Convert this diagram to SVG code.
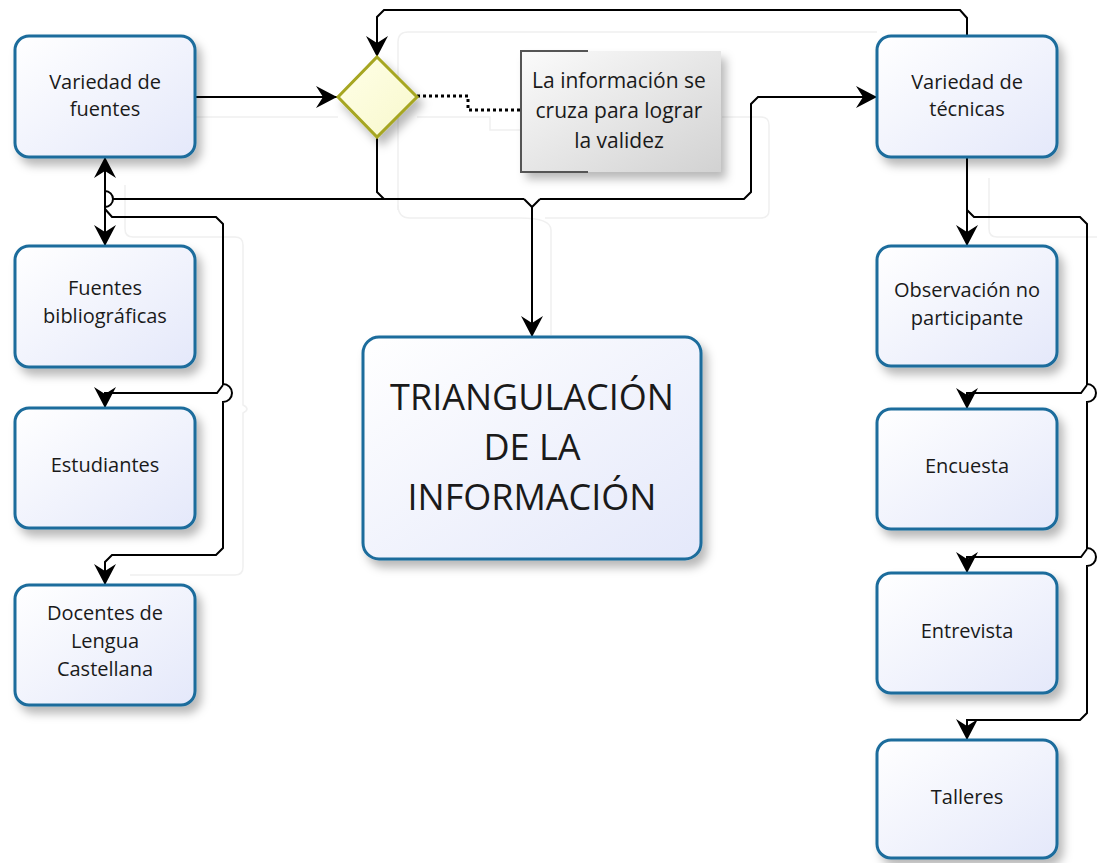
<svg xmlns="http://www.w3.org/2000/svg" width="1097" height="863" viewBox="0 0 1097 863">
<defs>
<linearGradient id="boxg" x1="0" y1="0" x2="1" y2="1">
<stop offset="0" stop-color="#ffffff"/>
<stop offset="1" stop-color="#e4e8fa"/>
</linearGradient>
<linearGradient id="noteg" x1="0" y1="0" x2="1" y2="1">
<stop offset="0" stop-color="#fbfbfb"/>
<stop offset="1" stop-color="#d2d2d2"/>
</linearGradient>
<linearGradient id="diag" x1="0" y1="0" x2="1" y2="1">
<stop offset="0" stop-color="#ffffe8"/>
<stop offset="1" stop-color="#f8f8cc"/>
</linearGradient>
<filter id="sh" x="-20%" y="-20%" width="150%" height="150%">
<feDropShadow dx="5" dy="7" stdDeviation="5" flood-color="#000" flood-opacity="0.28"/>
</filter>
<marker id="ah" viewBox="-22 -12 24 24" refX="0" refY="0" markerWidth="24" markerHeight="24" markerUnits="userSpaceOnUse" orient="auto-start-reverse">
<path d="M0,0 L-21,-11 L-14,0 L-21,11 Z" fill="#000"/>
</marker>
<style>
.box{fill:url(#boxg);stroke:#1b6c9c;stroke-width:3;filter:url(#sh)}
.t{font-family:"Open Sans","Noto Sans",sans-serif;font-size:20px;fill:#1a1a1a;text-anchor:middle}
.n{font-size:21px}
.big{font-size:36px}
.c{fill:none;stroke:#000;stroke-width:2}
.a{marker-end:url(#ah)}
.ghost{fill:none;stroke:#f0f0f0;stroke-width:1.5}
</style>
</defs>
<rect width="1097" height="863" fill="#fff"/>
<g id="ghosts">
<path class="ghost" d="M195,117 H338 M417,117 H490 V130 H520"/>
<path class="ghost" d="M398,210 V42 Q398,32 408,32 H877"/>
<path class="ghost" d="M722,117 H761 Q769,117 769,125 V210 Q769,218 761,218 H545"/>
<path class="ghost" d="M398,205 Q398,218 410,218 H520 Q551,218 551,230 V335"/>
<path class="ghost" d="M989,178 V229 Q989,237 997,237 H1097"/>
<path class="ghost" d="M125,185 V229 Q125,237 133,237 H235 Q243,237 243,245 V405 Q251,409 243,413 V567 Q243,575 235,575 H130"/>
</g>
<g id="connectors">
<path class="c a" d="M195,97 H337"/>
<path class="c a" d="M967,36 V18 L960,10 H384 L377,17 V57"/>
<path class="c a" d="M377,137 V192 L384,199 H524 M540,199 H744 L751,192 V104 L758,97 H877"/>
<path class="c" d="M113,199 H384"/>
<path class="c a" d="M524,199 L532,207 L540,199 M532,207 V337"/>
<path class="c" d="M105,191 A8,8 0 0 1 105,207"/>
<path class="c" d="M105,157 V246" marker-start="url(#ah)" marker-end="url(#ah)"/>
<path class="c a" d="M105,209 L112,217 H216 L223,224 V384 A9,9 0 0 1 223,402 V548 L216,555 H112 L105,562 V585"/>
<path class="c a" d="M223,385 L217,393 H105 V408"/>
<path class="c a" d="M967,157 V246"/>
<path class="c a" d="M967,210 L974,217 H1080 L1087,224 V384 A9,9 0 0 1 1087,402 V548 A9,9 0 0 1 1087,566 V713 L1080,720 H967 V740"/>
<path class="c a" d="M1087,385 L1081,393 H967 V409"/>
<path class="c a" d="M1087,549 L1081,557 H967 V573"/>
<path d="M417,96 H468 V110 H520" fill="none" stroke="#000" stroke-width="3" stroke-dasharray="3 3"/>
</g>
<g id="n-fuentes"><rect class="box" x="15" y="36" width="180" height="121" rx="14"/><text class="t" x="105" y="89">Variedad de</text><text class="t" x="105" y="116">fuentes</text></g>
<g id="n-decision"><polygon points="377,57 417,97 377,137 338,97" fill="url(#diag)" stroke="#a6a620" stroke-width="3" filter="url(#sh)"/></g>
<g id="n-nota"><rect x="521" y="51" width="200" height="121" fill="url(#noteg)" filter="url(#sh)"/><path d="M588,51 H521 V172 H588" fill="none" stroke="#555" stroke-width="2"/><text class="t n" x="619" y="88">La información se</text><text class="t n" x="619" y="118">cruza para lograr</text><text class="t n" x="619" y="148">la validez</text></g>
<g id="n-tecnicas"><rect class="box" x="877" y="36" width="180" height="121" rx="14"/><text class="t" x="967" y="89">Variedad de</text><text class="t" x="967" y="116">técnicas</text></g>
<g id="n-biblio"><rect class="box" x="15" y="246" width="180" height="121" rx="14"/><text class="t" x="105" y="295">Fuentes</text><text class="t" x="105" y="323">bibliográficas</text></g>
<g id="n-estudiantes"><rect class="box" x="15" y="408" width="180" height="120" rx="14"/><text class="t" x="105" y="472">Estudiantes</text></g>
<g id="n-docentes"><rect class="box" x="15" y="585" width="180" height="120" rx="14"/><text class="t" x="105" y="620">Docentes de</text><text class="t" x="105" y="648">Lengua</text><text class="t" x="105" y="676">Castellana</text></g>
<g id="n-central"><rect class="box" x="363" y="337" width="338" height="222" rx="16"/><text class="t big" x="532" y="410">TRIANGULACIÓN</text><text class="t big" x="532" y="460">DE LA</text><text class="t big" x="532" y="510">INFORMACIÓN</text></g>
<g id="n-observacion"><rect class="box" x="877" y="246" width="180" height="120" rx="14"/><text class="t" x="967" y="297">Observación no</text><text class="t" x="967" y="325">participante</text></g>
<g id="n-encuesta"><rect class="box" x="877" y="409" width="180" height="120" rx="14"/><text class="t" x="967" y="473">Encuesta</text></g>
<g id="n-entrevista"><rect class="box" x="877" y="573" width="180" height="120" rx="14"/><text class="t" x="967" y="638">Entrevista</text></g>
<g id="n-talleres"><rect class="box" x="877" y="740" width="180" height="118" rx="14"/><text class="t" x="967" y="804">Talleres</text></g>
</svg>
